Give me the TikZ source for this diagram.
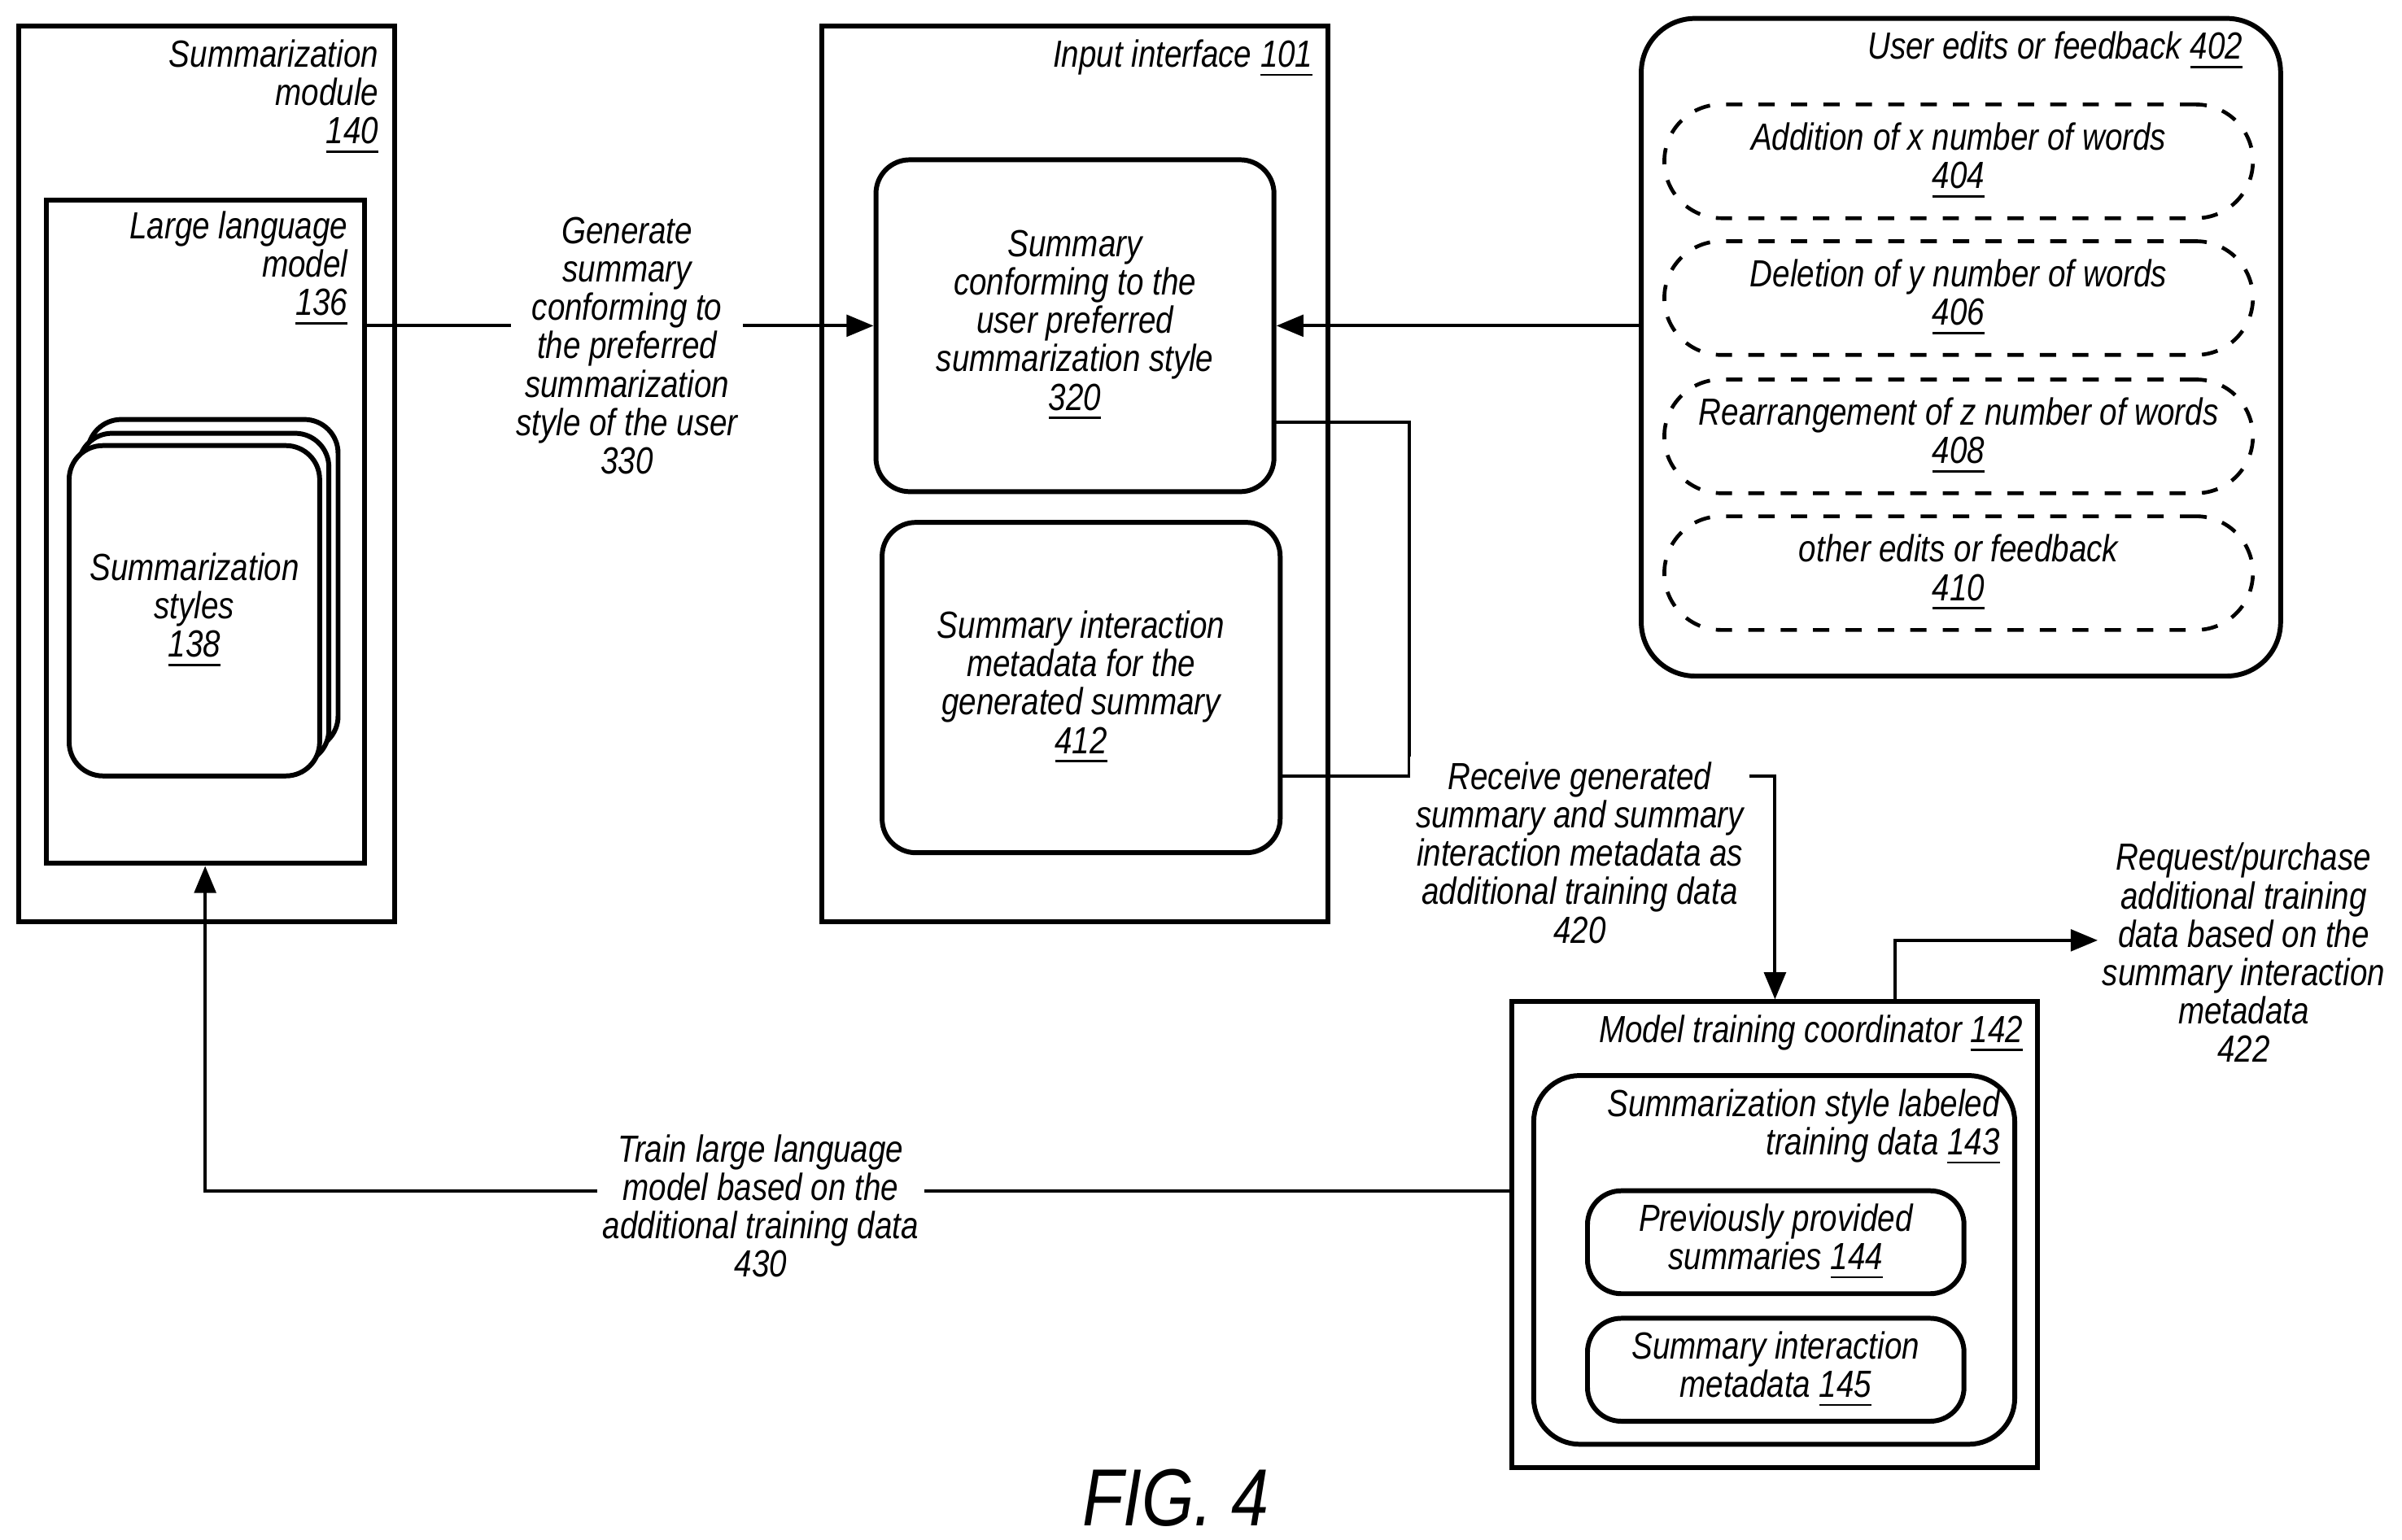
\documentclass[tikz,border=0pt]{standalone}
\usepackage{fontspec}
\setmainfont{Liberation Sans}[FakeStretch=0.83]
\usetikzlibrary{arrows.meta}
\begin{document}
\begin{tikzpicture}[
  font=\fontsize{7}{7.1}\selectfont\itshape,
  box/.style={draw,line width=0.9pt,inner sep=0pt},
  rbox/.style={box,rounded corners=0.22cm},
  dbox/.style={draw,dashed,line width=0.7pt,rounded corners=0.37cm,minimum width=3.83cm,minimum height=0.74cm,align=center},
  lbl/.style={align=right,inner sep=0pt},
  txt/.style={align=center,inner sep=1pt},
  arr/.style={line width=0.6pt,-{Triangle[length=5pt,width=4pt]}}
]
\useasboundingbox (0,0) rectangle (15.63,-10.02);
% left module
\node[box,minimum width=2.45cm,minimum height=5.83cm] (mod) at (1.345,-3.085) {};
\node[lbl,anchor=north east] at (2.47,-0.25) {Summarization\\module\\\underline{140}};
\node[box,minimum width=2.07cm,minimum height=4.32cm] (llm) at (1.335,-3.46) {};
\node[lbl,anchor=north east] at (2.27,-1.37) {Large language\\model\\\underline{136}};
\node[rbox,fill=white,minimum width=1.63cm,minimum height=2.15cm] at (1.385,-3.805) {};
\node[rbox,fill=white,minimum width=1.63cm,minimum height=2.15cm] at (1.325,-3.895) {};
\node[rbox,fill=white,minimum width=1.63cm,minimum height=2.15cm,align=center] (sty) at (1.265,-3.975) {Summarization\\styles\\\underline{138}};
% input interface
\node[box,minimum width=3.29cm,minimum height=5.83cm] (inp) at (6.995,-3.085) {};
\node[lbl,anchor=north east] at (8.55,-0.25) {Input interface \underline{101}};
\node[rbox,minimum width=2.59cm,minimum height=2.16cm,align=center] (s320) at (6.995,-2.12) {Summary\\conforming to the\\user preferred\\summarization style\\\underline{320}};
\node[rbox,minimum width=2.59cm,minimum height=2.15cm,align=center] (s412) at (7.035,-4.475) {Summary interaction\\metadata for the\\generated summary\\\underline{412}};
% user edits
\node[box,rounded corners=0.35cm,minimum width=4.16cm,minimum height=4.28cm] (edits) at (12.76,-2.26) {};
\node[lbl,anchor=north east] at (14.6,-0.2) {User edits or feedback \underline{402}};
\node[dbox] (e404) at (12.745,-1.05) {Addition of x number of words\\\underline{404}};
\node[dbox] (e406) at (12.745,-1.94) {Deletion of y number of words\\\underline{406}};
\node[dbox] (e408) at (12.745,-2.84) {Rearrangement of z number of words\\\underline{408}};
\node[dbox] (e410) at (12.745,-3.73) {other edits or feedback\\\underline{410}};
% model training coordinator
\node[box,minimum width=3.42cm,minimum height=3.03cm] (mtc) at (11.55,-8.035) {};
\node[lbl,anchor=north east] at (13.17,-6.6) {Model training coordinator \underline{142}};
\node[rbox,rounded corners=0.3cm,minimum width=3.13cm,minimum height=2.4cm] (sld) at (11.545,-8.2) {};
\node[lbl,anchor=north east] at (13.02,-7.08) {Summarization style labeled\\training data \underline{143}};
\node[rbox,minimum width=2.45cm,minimum height=0.67cm,align=center] (s144) at (11.555,-8.085) {Previously provided\\summaries \underline{144}};
\node[rbox,minimum width=2.45cm,minimum height=0.67cm,align=center] (s145) at (11.555,-8.915) {Summary interaction\\metadata \underline{145}};
% connectors
\draw[arr] (llm.east |- s320.west) -- (s320.west);
\node[txt,fill=white] (l330) at (4.08,-2.25) {Generate\\summary\\conforming to\\the preferred\\summarization\\style of the user\\330};
\draw[arr] (edits.west |- s320.east) -- (s320.east);
\coordinate (j) at (9.17,-5.05);
\coordinate (t) at (8.29,-2.75);
\draw[line width=0.6pt] (t) -| (j);
\draw[arr] (s412.east |- j) -- (j) -| (mtc.north);
\node[txt,fill=white] (l420) at (10.28,-5.55) {Receive generated\\summary and summary\\interaction metadata as\\additional training data\\420};
\coordinate (r0) at (12.33,-6.52);
\coordinate (r1) at (13.65,-6.12);
\draw[arr] (r0) |- (r1);
\node[txt] (l422) at (14.6,-6.2) {Request/purchase\\additional training\\data based on the\\summary interaction\\metadata\\422};
\coordinate (w) at (9.84,-7.75);
\draw[arr] (w) -| (llm.south);
\node[txt,fill=white] (l430) at (4.95,-7.85) {Train large language\\model based on the\\additional training data\\430};
\node[inner sep=0pt,font=\fontsize{15}{16}\selectfont\itshape] (fig) at (7.65,-9.75) {FIG. 4};
\end{tikzpicture}
\end{document}
